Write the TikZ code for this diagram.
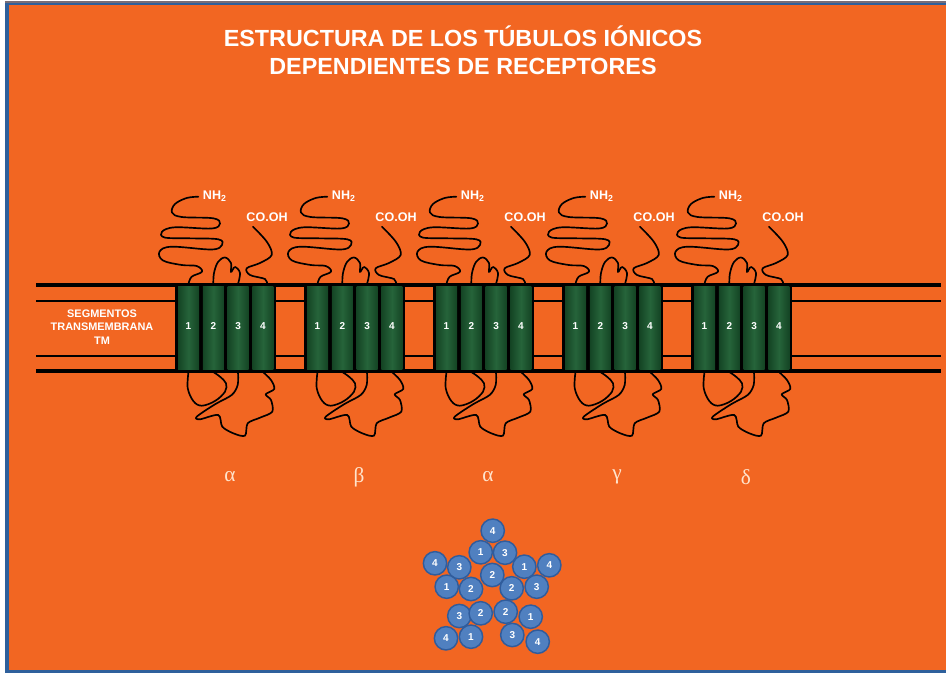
\documentclass[tikz,border=0pt]{standalone}
\usepackage{fontspec}
\setmainfont{Liberation Sans}
\newfontfamily\greekfont{Liberation Serif}
\definecolor{bgorange}{RGB}{242,102,34}
\definecolor{frameblue}{RGB}{46,96,156}
\definecolor{framegray}{RGB}{120,110,120}
\definecolor{tmdark}{RGB}{20,68,36}
\definecolor{tmlight}{RGB}{38,100,58}
\definecolor{ballfill}{RGB}{80,128,192}
\definecolor{balledge}{RGB}{48,92,156}
\definecolor{greekcol}{RGB}{255,228,205}
\begin{document}
\begin{tikzpicture}[x=0.75pt,y=-0.75pt,
  chain/.style={line width=1.25pt, line join=round, line cap=round},
  tmbar/.style={left color=tmdark, right color=tmdark, middle color=tmlight},
  tmnum/.style={text=white, font=\bfseries\fontsize{7.5}{8}\selectfont, inner sep=0pt},
  termlabel/.style={text=white, font=\bfseries\fontsize{9.4}{10}\selectfont, inner sep=0pt, anchor=base west},
  subname/.style={text=greekcol, font=\greekfont\fontsize{16}{17}\selectfont, inner sep=0pt},
  ball/.style={circle, fill=ballfill, draw=balledge, line width=1.1pt, minimum size=17.5pt, inner sep=0pt,
    text=white, font=\bfseries\fontsize{7.5}{8}\selectfont},
  titletext/.style={text=white, font=\bfseries\fontsize{17.5}{21}\selectfont, align=center, inner sep=0pt},
  sidelabel/.style={text=white, font=\bfseries\fontsize{8.2}{10.3}\selectfont, align=center, inner sep=0pt}
]
\useasboundingbox (0,0) rectangle (946,673);
\fill[white] (0,0) rectangle (946,673);
% frame and background
\fill[framegray] (5,1.5) rectangle (946,3);
\fill[frameblue] (5,3) rectangle (946,673);
\fill[bgorange] (8.5,5.5) rectangle (946,670);

% title
\node[titletext] (title) at (463,50) {ESTRUCTURA DE LOS TÚBULOS IÓNICOS\\DEPENDIENTES DE RECEPTORES};

% membrane
\draw[line width=3pt] (36,285.5) -- (941,285.5);
\draw[line width=1pt] (36,301) -- (941,301);
\draw[line width=1pt] (36,356) -- (941,356);
\draw[line width=3pt] (36,371.5) -- (941,371.5);

\node[sidelabel] (tmlabel) at (102,327) {SEGMENTOS\\TRANSMEMBRANA\\TM};

% receptor subunits
\foreach \i/\x/\g in {1/175/α, 2/304/β, 3/433/α, 4/562/γ, 5/691/δ}{
  \begin{scope}[shift={(\x,284)}]
    \fill[black] (0,0) rectangle (101,88);
    \foreach \k in {1,...,4}{
      \shade[tmbar] ({3+24.8*(\k-1)},3) rectangle ++(21,83);
      \node[tmnum] (seg-\i-\k) at ({13.5+24.8*(\k-1)},42) {\k};
    }
    % N-terminal chain
    \draw[chain] plot[smooth, tension=0.6] coordinates {
      (23.3,-87.3) (11.7,-86) (0,-80) (-3,-71.5) (6.7,-67) (38.3,-65.7)
      (45,-60.5) (36.7,-55.5) (0,-56.7) (-13,-52.3) (-10.5,-46.5) (13.3,-45.7)
      (43.3,-44.7) (47,-39) (36.7,-34.5) (-3.3,-37.3) (-15.5,-32.3) (-12,-23.5)
      (6.7,-19) (21.7,-18) (27,-12.3) (16.7,-7.3) (13.5,0)};
    % extracellular loop between segments 2 and 3
    \draw[chain] plot[smooth, tension=0.6] coordinates {
      (38.3,0) (39,-11) (43,-22) (50,-26.5) (56,-21) (56,-12) (60,-17) (65,-11) (63,0)};
    % C-terminal chain
    \draw[chain] plot[smooth, tension=0.55] coordinates {
      (78,-57.3) (92,-42) (96.7,-29) (85,-21) (71.7,-15.7) (75,-9) (90,-5) (92,0)};
    % intracellular loop between segments 1 and 2
    \draw[chain] plot[smooth, tension=0.6] coordinates {
      (13.5,88) (12.7,104) (18.3,117) (26.7,121.7) (40,117) (50,107.7) (51,99.3) (45,92.7) (38.3,88)};
    % intracellular loop between segments 3 and 4
    \draw[chain] plot[smooth, tension=0.5] coordinates {
      (63,88) (62.7,101) (56.7,111) (40,120.3) (21.7,132.7) (25,135.3) (43.3,131)
      (47.3,142.7) (58.3,149.3) (70,151.7) (72.7,139.3) (85,133.7) (97.3,127.7)
      (96,116) (90.7,110.3) (99.3,105) (96,96) (88,88)};
    \node[termlabel] (nh-\i) at (27.7,-84.7) {NH\textsubscript{2}};
    \node[termlabel] (co-\i) at (71.2,-62.3) {CO.OH};
    \node[subname] (sub-\i) at (55,193) {\g};
  \end{scope}
}

% pentameric arrangement seen from above
\foreach \bx/\by/\n [count=\j] in {
  492.7/530.7/4, 480.7/552.3/1, 505/552.7/3,
  435/563.3/4, 459.3/567.3/3, 492.3/575/2, 524.3/566.7/1, 549.3/565.3/4,
  446.7/586.7/1, 471/589/2, 511.7/588.3/2, 536.7/586.7/3,
  459.3/616/3, 480.7/613.3/2, 505.7/611.7/2, 530.7/616.7/1,
  446/638.3/4, 471/636.7/1, 512.3/635/3, 537.7/641.7/4}{
  \node[ball] (ball-\j) at (\bx,\by) {\n};
}
\end{tikzpicture}
\end{document}
